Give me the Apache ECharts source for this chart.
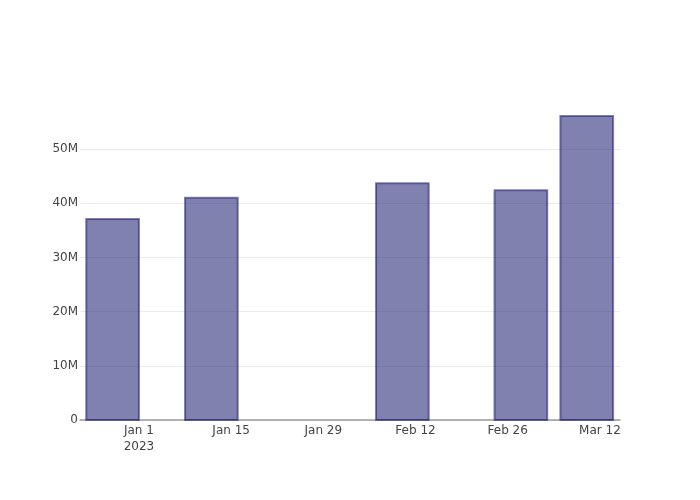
<!DOCTYPE html>
<html>
<head>
<meta charset="utf-8">
<script src="https://cdn.jsdelivr.net/npm/echarts@6/dist/echarts.min.js"></script>
<style>html,body{margin:0;padding:0;background:#fff}#c{width:700px;height:500px}</style>
</head>
<body>
<div id="c"></div>
<script>
const dates = ['2022-12-28', '2023-01-12', '2023-02-10', '2023-02-28', '2023-03-10'];
const values = [37.1e6, 41.0e6, 43.7e6, 42.4e6, 56.1e6];
const tickDates = ['2023-01-01', '2023-01-15', '2023-01-29', '2023-02-12', '2023-02-26', '2023-03-12'];
const tickLabels = ['Jan 1\n2023', 'Jan 15', 'Jan 29', 'Feb 12', 'Feb 26', 'Mar 12'];
const yTicks = [0, 10e6, 20e6, 30e6, 40e6, 50e6];
const yTickLabels = ['0', '10M', '20M', '30M', '40M', '50M'];

const DAY = 86400000;
const ts = s => Date.UTC(+s.slice(0,4), +s.slice(5,7)-1, +s.slice(8,10));
const barHalf = 4 * DAY;
const xMin = ts('2022-12-23') + 0.05 * DAY;
const xMax = ts('2023-03-15') + 0.05 * DAY;
const tickTs = tickDates.map(ts);
const FONT = 'DejaVu Sans, sans-serif';

const chart = echarts.init(document.getElementById('c'), null, {renderer: 'canvas'});
chart.setOption({
  animation: false,
  backgroundColor: '#fff',
  grid: {left: 80, right: 80, top: 100, bottom: 80, containLabel: false},
  xAxis: {
    type: 'value', min: xMin, max: xMax, scale: true,
    axisLine: {show: true, lineStyle: {color: '#9a9a9a', width: 1.5}},
    axisTick: {show: false, customValues: tickTs},
    splitLine: {show: false},
    axisLabel: {
      customValues: tickTs,
      color: '#444', fontSize: 12, fontFamily: FONT,
      margin: 3, lineHeight: 16, hideOverlap: false,
      formatter: function (v) {
        const i = tickTs.indexOf(v);
        return i >= 0 ? tickLabels[i] : '';
      }
    }
  },
  yAxis: {
    type: 'value', min: 0, max: 59.04e6,
    axisLine: {show: false},
    axisTick: {show: false, customValues: yTicks},
    splitLine: {show: true, lineStyle: {color: '#ebebeb', width: 1}},
    axisLabel: {
      customValues: yTicks,
      color: '#444', fontSize: 12, fontFamily: FONT,
      margin: 2,
      formatter: function (v) {
        const i = yTicks.indexOf(v);
        return i >= 0 ? yTickLabels[i] : '';
      }
    }
  },
  series: [{
    type: 'custom',
    data: dates.map((d, i) => [ts(d), values[i]]),
    encode: {x: 0, y: 1},
    renderItem: function (params, api) {
      const x = api.value(0), y = api.value(1);
      const p0 = api.coord([x - barHalf, 0]);
      const p1 = api.coord([x + barHalf, y]);
      return {
        type: 'rect',
        shape: {x: p0[0], y: p1[1], width: p1[0] - p0[0], height: p0[1] - p1[1]},
        style: {fill: 'rgba(25,25,112,0.55)', stroke: 'rgba(25,25,112,0.55)', lineWidth: 2}
      };
    }
  }]
});
</script>
</body>
</html>
